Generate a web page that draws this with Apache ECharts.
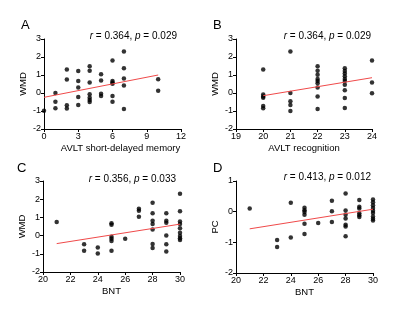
<!DOCTYPE html>
<html>
<head>
<meta charset="utf-8">
<script src="https://cdn.jsdelivr.net/npm/echarts@6/dist/echarts.min.js"></script>
<style>html,body{margin:0;padding:0;background:#fff}#c{width:400px;height:309px}</style>
</head>
<body>
<div id="c"></div>
<script>
// Panel A: AVLT short-delayed memory vs WMD
const aX = [0, 1,1,1, 2,2,2,2, 3,3,3,3,3, 4,4,4,4,4,4,4, 5,5,5,5, 6,6,6,6,6,6, 7,7,7,7,7, 10,10];
const aY = [-0.98, 0,-0.48,-0.85, 1.3,0.75,-0.68,-0.86, 1.22,0.67,0.3,-0.22,-0.67, 1.48,1.24,0.59,-0.07,-0.26,-0.39,-0.5, 1.04,0.69,-0.04,-0.17, 1.81,0.67,0.59,0.52,-0.17,-0.48, 2.31,1.37,0.8,0.41,-0.89, 0.76,0.13];
// Panel B: AVLT recognition vs WMD
const bX = [20,20,20,20,20,20, 21,21,21,21,21, 22,22,22,22,22,22,22,22,22, 23,23,23,23,23,23,23,23,23,23, 24,24,24];
const bY = [1.31,-0.09,-0.19,-0.26,-0.72,-0.85, 2.31,0,-0.46,-0.67,-1.0, 1.48,1.24,1.02,0.78,0.67,0.54,0.31,-0.19,-0.89, 1.37,1.22,1.09,0.93,0.78,0.67,0.46,0.15,-0.28,-0.83, 1.80,0.59,-0.02];
// Panel C: BNT vs WMD
const cX = [21, 23,23, 24,24, 25,25,25,25,25,25, 26, 27,27,27, 28,28,28,28,28,28,28, 29,29,29,29,29,29, 30,30,30,30,30,30,30,30,30];
const cY = [0.75, -0.48,-0.83, -0.66,-0.99, 0.68,0.59,-0.06,-0.17,-0.29,-0.83, -0.17, 1.47,1.36,1.03, 1.80,1.23,0.81,0.64,0.33,-0.46,-0.68, 1.23,0.81,0.70,0.0,-0.48,-0.88, 2.30,1.34,0.77,0.64,0.40,0.15,-0.02,-0.15,-0.24];
// Panel D: BNT vs PC
const dX = [21, 23,23, 24,24, 25,25,25,25,25,25, 26, 27,27,27, 28,28,28,28,28,28,28, 29,29,29,29,29,29, 30,30,30,30,30,30,30,30,30];
const dY = [0.10, -0.92,-1.15, 0.29,-0.84, 0.13,0.05,-0.01,-0.10,-0.39,-0.73, -0.37, 0.36,0.01,-0.34, 0.59,0.04,-0.10,-0.22,-0.43,-0.48,-0.80, 0.38,0.16,0.10,-0.05,-0.12,-0.17, 0.40,0.31,0.21,0.12,0.03,-0.04,-0.16,-0.23,-0.29];
// Regression lines (endpoints)
const fitAX = [0, 10],  fitAY = [-0.24, 1.0];
const fitBX = [20, 24], fitBY = [-0.15, 0.85];
const fitCX = [21, 30], fitCY = [-0.44, 0.63];
const fitDX = [21, 30], fitDY = [-0.56, 0.08];
// Labels
const panelLabels = ['A', 'B', 'C', 'D'];
const xNames = ['AVLT short-delayed memory', 'AVLT recognition', 'BNT', 'BNT'];
const yNames = ['WMD', 'WMD', 'WMD', 'PC'];
const rVals = ['0.364', '0.364', '0.356', '0.413'];
const pVals = ['0.029', '0.029', '0.033', '0.012'];
// Axis ranges
const xMin = [0, 19, 20, 20], xMax = [12, 24, 30, 30], xStep = [3, 1, 2, 2];
const yMin = [-2, -2, -2, -2], yMax = [3, 3, 3, 1], yStep = [1, 1, 1, 1];

const FONT = 'Arial, "Liberation Sans", sans-serif';
const zip = (xs, ys) => xs.map((x, i) => [x, ys[i]]);
const pts = [zip(aX, aY), zip(bX, bY), zip(cX, cY), zip(dX, dY)];
const fits = [zip(fitAX, fitAY), zip(fitBX, fitBY), zip(fitCX, fitCY), zip(fitDX, fitDY)];

const grids = [
  {left: 44, top: 39, width: 137, height: 90},
  {left: 236, top: 39, width: 136, height: 90},
  {left: 43, top: 181, width: 137, height: 91},
  {left: 236, top: 181, width: 137, height: 92}
];
const namePad = [[0, 0, 0, 16], 0, 0, 0];
const annRight = [223, 29, 224, 29];
const annTop = [31, 31, 174, 172];
const labLeft = [21, 213, 17, 213];
const labTop = [19, 19, 162, 162];

const axisCommon = {
  axisLine: {onZero: false, lineStyle: {color: '#000', width: 1}},
  axisTick: {show: true, length: 3, lineStyle: {color: '#000'}},
  splitLine: {show: false},
  axisLabel: {color: '#000', fontSize: 9, fontFamily: FONT, margin: 3}
};

const option = {
  animation: false,
  backgroundColor: '#fff',
  grid: grids,
  title: [],
  xAxis: grids.map((g, i) => Object.assign({}, axisCommon, {
    type: 'value', gridIndex: i, min: xMin[i], max: xMax[i], interval: xStep[i],
    name: xNames[i], nameLocation: 'middle', nameGap: 14,
    nameTextStyle: {color: '#000', fontSize: 9.5, fontFamily: FONT, padding: namePad[i]}
  })),
  yAxis: grids.map((g, i) => Object.assign({}, axisCommon, {
    type: 'value', gridIndex: i, min: yMin[i], max: yMax[i], interval: yStep[i],
    name: yNames[i], nameLocation: 'middle', nameGap: 16,
    nameTextStyle: {color: '#000', fontSize: 9.5, fontFamily: FONT}
  })),
  series: []
};

for (let i = 0; i < 4; i++) {
  option.title.push({
    text: panelLabels[i], left: labLeft[i], top: labTop[i], padding: 0,
    textStyle: {fontSize: 13, fontWeight: 'normal', color: '#000', fontFamily: FONT}
  });
  option.title.push({
    text: '{i|r} = ' + rVals[i] + ', {i|p} = ' + pVals[i],
    right: annRight[i], top: annTop[i], padding: 0,
    textStyle: {fontSize: 10, fontWeight: 'normal', color: '#000', fontFamily: FONT,
      rich: {i: {fontStyle: 'italic', fontSize: 10, color: '#000', fontFamily: FONT}}}
  });
  option.series.push({
    type: 'scatter', xAxisIndex: i, yAxisIndex: i, data: pts[i],
    symbol: 'circle', symbolSize: 4.5, clip: false,
    itemStyle: {color: '#000'}
  });
  option.series.push({
    type: 'line', xAxisIndex: i, yAxisIndex: i, data: fits[i],
    showSymbol: false, symbol: 'none',
    lineStyle: {color: '#f04a4a', width: 1}
  });
}

const chart = echarts.init(document.getElementById('c'), null, {renderer: 'canvas'});
chart.setOption(option);
</script>
</body>
</html>
